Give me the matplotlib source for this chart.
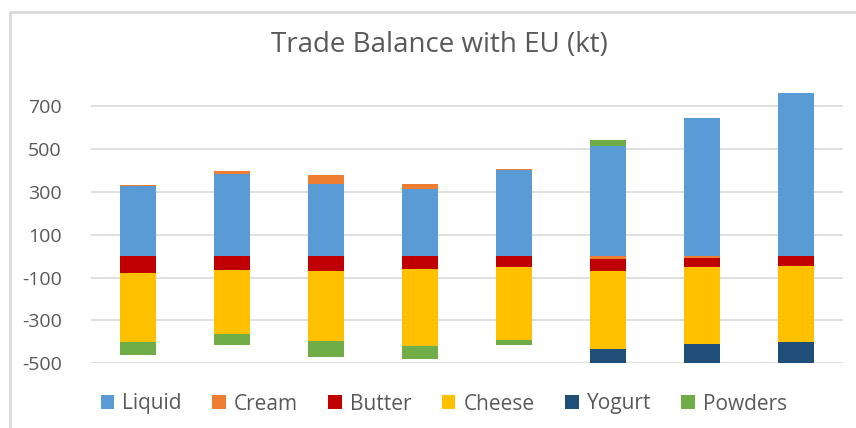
import numpy as np
import matplotlib.pyplot as plt
from matplotlib.lines import Line2D

# values (kt), one entry per bar
liquid = [328, 382, 338, 312, 401, 514, 643, 760]
cream = [4, 14, 39, 23, 4, -14, -9, 0]
butter = [-80, -66, -71, -61, -52, -57, -43, -47]
cheese = [-322, -299, -327, -360, -341, -364, -360, -355]
yogurt = [0, 0, 0, 0, 0, -80, -100, -110]
powders = [-61, -51, -74, -61, -23, 27, 0, 0]

series = ["Liquid", "Cream", "Butter", "Cheese", "Yogurt", "Powders"]
colors = ["#5B9BD5", "#ED7D31", "#C00000", "#FFC000", "#1F4E79", "#70AD47"]
yticks = [-500, -300, -100, 100, 300, 500, 700]

plt.rcParams['font.family'] = ['Open Sans', 'DejaVu Sans']

fig = plt.figure(figsize=(8.56, 4.28), dpi=100)
ax = fig.add_axes([91 / 856, 1 - 363.3 / 428, 752 / 856, 278.6 / 428])

x = np.arange(len(liquid))
pos_bottom = np.zeros(len(x))
neg_bottom = np.zeros(len(x))
for name, vals, col in zip(series, [liquid, cream, butter, cheese, yogurt, powders], colors):
    v = np.array(vals, dtype=float)
    bottom = np.where(v >= 0, pos_bottom, neg_bottom)
    ax.bar(x, v, bottom=bottom, width=0.39, color=col, label=name, zorder=2)
    pos_bottom += np.where(v >= 0, v, 0)
    neg_bottom += np.where(v < 0, v, 0)

ax.set_xlim(-0.5, len(x) - 0.5)
ax.set_ylim(-500, 800)
ax.set_yticks(yticks)
ax.set_yticklabels([str(t) for t in yticks])
ax.set_xticks([])
ax.yaxis.grid(True, color="#D9D9D9", linewidth=1.2, zorder=0)
ax.tick_params(axis='y', length=0, labelsize=14, labelcolor="#595959", pad=21)
for s in ax.spines.values():
    s.set_visible(False)

fig.text(439 / 856, 1 - 45 / 428, "Trade Balance with EU (kt)", ha='center', va='center',
         fontsize=20, color="#595959")

ax.legend(loc='center', bbox_to_anchor=(444 / 856, 1 - 404 / 428), bbox_transform=fig.transFigure,
          ncol=6, frameon=False, fontsize=15, labelcolor="#595959", handlelength=0.65,
          handleheight=0.65, handletextpad=0.4, columnspacing=1.45)

# chart area border (only top and left edges visible in the crop)
fig.add_artist(Line2D([10 / 856, 10 / 856, 1], [0, 1 - 12 / 428, 1 - 12 / 428],
                      transform=fig.transFigure, color="#D9D9D9", linewidth=2))

fig.savefig("out.png", dpi=100)
